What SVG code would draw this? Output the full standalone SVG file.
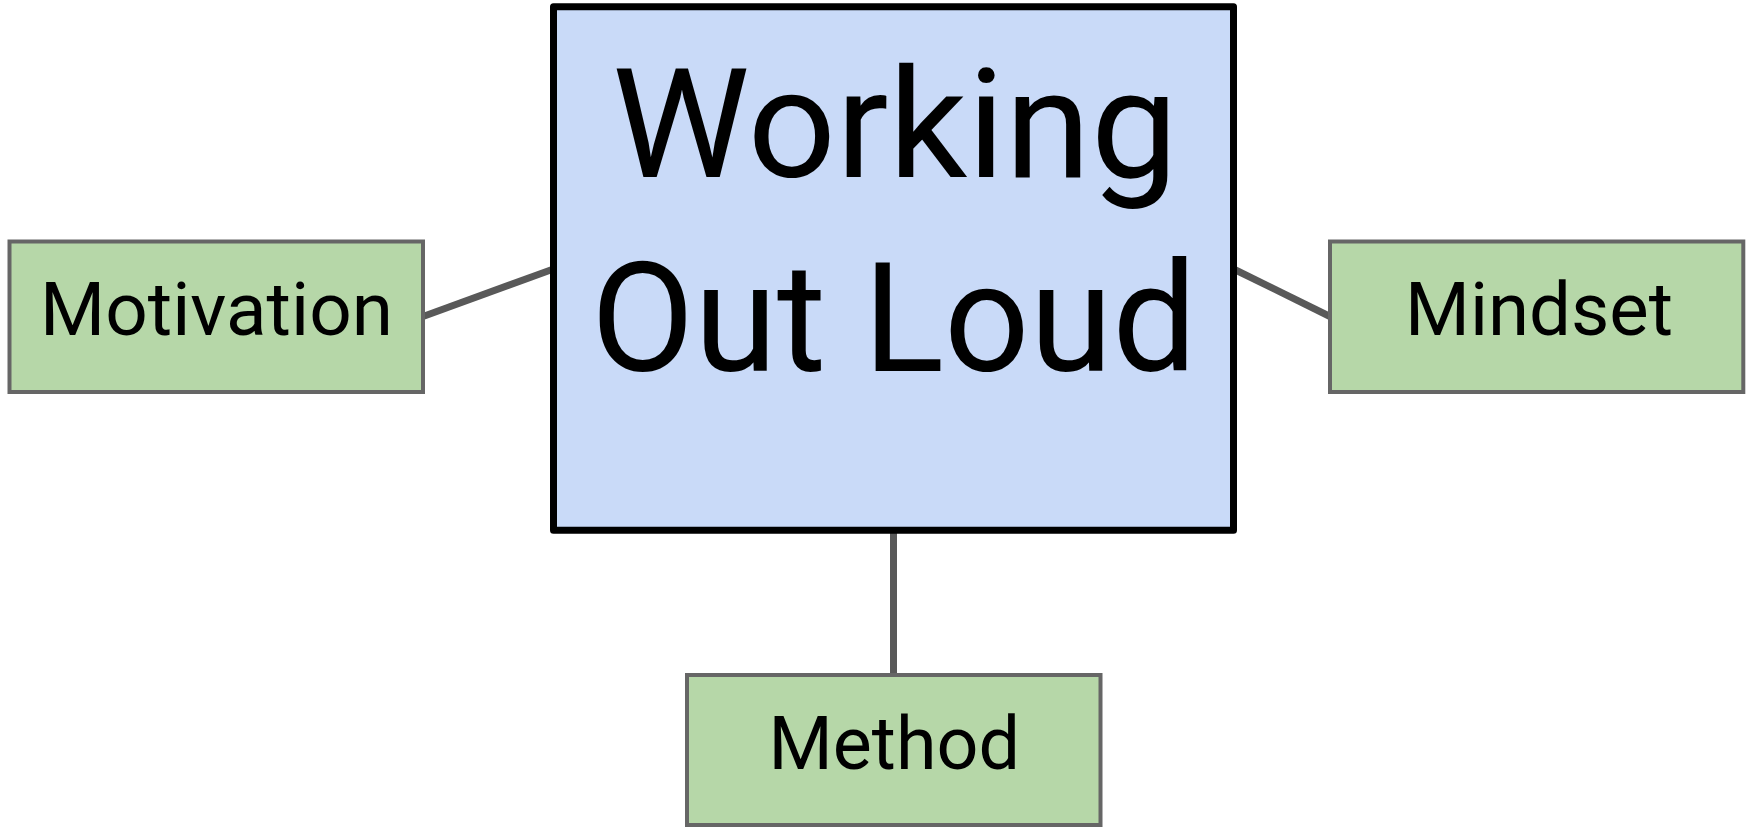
<svg xmlns="http://www.w3.org/2000/svg" width="1752" height="829" viewBox="0 0 1752 829">
  <style>
    .hub { fill: #c9daf8; stroke: #000000; stroke-width: 7; stroke-linejoin: round; }
    .leaf { fill: #b6d7a8; stroke: #666666; stroke-width: 4; }
    .link { stroke: #595959; stroke-width: 7; fill: none; }
    .title { font-family: Roboto, "Liberation Sans", sans-serif; font-size: 152px; fill: #000000; }
    .label { font-family: Roboto, "Liberation Sans", sans-serif; font-size: 75px; fill: #000000; }
  </style>
  <rect width="1752" height="829" fill="#ffffff"/>

  <!-- connectors between the central node and the three satellites -->
  <g id="connectors">
    <line class="link" x1="423" y1="316.5" x2="553.5" y2="269"/>
    <line class="link" x1="1233.5" y1="269" x2="1330" y2="316.5"/>
    <line class="link" x1="893.5" y1="530" x2="893.5" y2="675"/>
  </g>

  <g id="node-working-out-loud">
    <rect class="hub" x="553.5" y="6.7" width="680" height="523.6"/>
    <text class="title" x="612" y="177" textLength="566" lengthAdjust="spacingAndGlyphs">Working</text>
    <text class="title" x="591" y="371" textLength="606" lengthAdjust="spacingAndGlyphs">Out Loud</text>
  </g>

  <g id="node-motivation">
    <rect class="leaf" x="9.5" y="241.5" width="413.5" height="150.5"/>
    <text class="label" x="40" y="335" textLength="353" lengthAdjust="spacingAndGlyphs">Motivation</text>
  </g>

  <g id="node-mindset">
    <rect class="leaf" x="1330" y="241.5" width="413.3" height="150.5"/>
    <text class="label" x="1405" y="335" textLength="268" lengthAdjust="spacingAndGlyphs">Mindset</text>
  </g>

  <g id="node-method">
    <rect class="leaf" x="687" y="675" width="413.5" height="150"/>
    <text class="label" x="768.5" y="769.3" textLength="251.5" lengthAdjust="spacingAndGlyphs">Method</text>
  </g>
</svg>
